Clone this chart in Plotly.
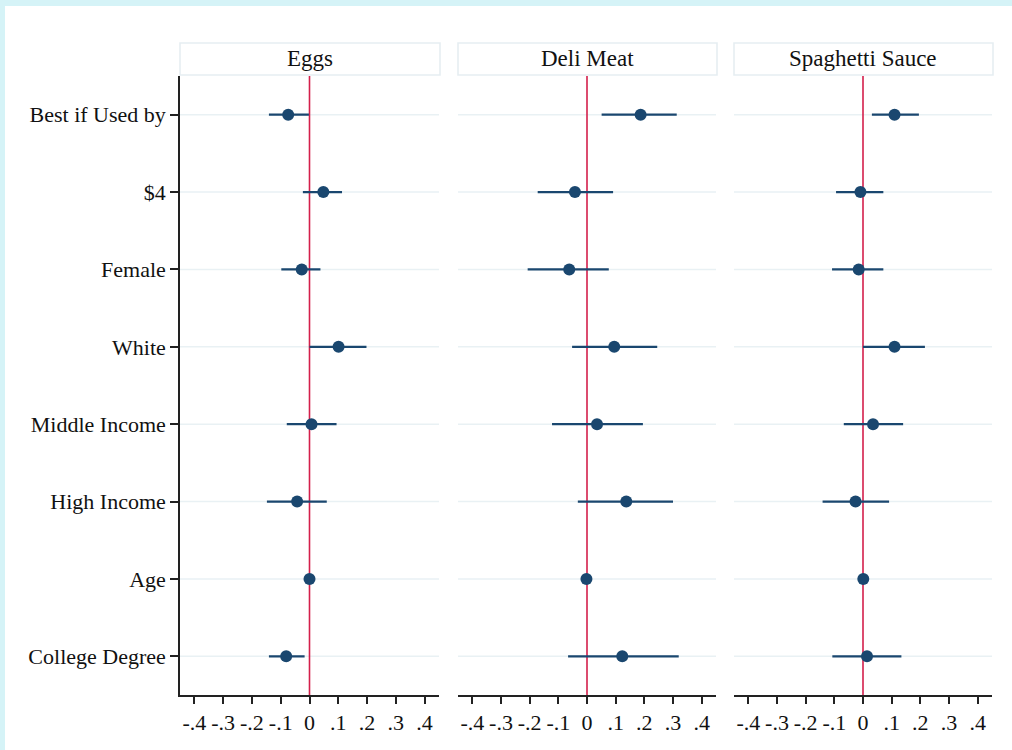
import plotly.graph_objects as go

categories = ["Best if Used by", "$4", "Female", "White", "Middle Income",
              "High Income", "Age", "College Degree"]
panels = ["Eggs", "Deli Meat", "Spaghetti Sauce"]

eggs_est = [-0.074, 0.048, -0.027, 0.101, 0.007, -0.043, 0.000, -0.081]
eggs_lo = [-0.141, -0.023, -0.098, 0.000, -0.079, -0.148, -0.004, -0.141]
eggs_hi = [-0.002, 0.113, 0.038, 0.198, 0.094, 0.060, 0.004, -0.017]

deli_est = [0.187, -0.042, -0.062, 0.095, 0.035, 0.137, -0.002, 0.123]
deli_lo = [0.051, -0.172, -0.207, -0.052, -0.122, -0.032, -0.006, -0.066]
deli_hi = [0.313, 0.091, 0.076, 0.245, 0.195, 0.300, 0.002, 0.320]

sauce_est = [0.110, -0.009, -0.015, 0.110, 0.035, -0.026, 0.001, 0.014]
sauce_lo = [0.031, -0.094, -0.108, 0.000, -0.067, -0.141, -0.003, -0.107]
sauce_hi = [0.195, 0.071, 0.071, 0.216, 0.140, 0.091, 0.005, 0.134]

tick_vals = [-0.4, -0.3, -0.2, -0.1, 0, 0.1, 0.2, 0.3, 0.4]
tick_text = ["-.4", "-.3", "-.2", "-.1", "0", ".1", ".2", ".3", ".4"]

W, H = 1012, 750
NAVY = "#1A476F"
RED = "#D41F4B"
GRID = "#E9F1F4"
FONT = "Liberation Serif"

data = [(eggs_est, eggs_lo, eggs_hi), (deli_est, deli_lo, deli_hi),
        (sauce_est, sauce_lo, sauce_hi)]
px_ranges = [(180, 439), (458, 716), (734, 992)]
top_px, bot_px = 76, 695

fig = go.Figure()
layout = dict(
    width=W, height=H,
    margin=dict(l=0, r=0, t=0, b=0),
    paper_bgcolor="#D5F3F7",
    plot_bgcolor="white",
    showlegend=False,
    font=dict(family=FONT, color="#111111", size=22),
)

shapes = [dict(type="rect", xref="paper", yref="paper",
               x0=5 / W, x1=1, y0=0, y1=(H - 6) / H,
               fillcolor="white", line=dict(width=0), layer="below")]
annotations = []

ypos = list(range(1, len(categories) + 1))

for i, (name, (est, lo, hi)) in enumerate(zip(panels, data)):
    n = i + 1
    xa = "x" if n == 1 else f"x{n}"
    ya = "y" if n == 1 else f"y{n}"
    plus = [h - e for h, e in zip(hi, est)]
    minus = [e - l for e, l in zip(est, lo)]
    fig.add_trace(go.Scatter(
        x=est, y=ypos, mode="markers", xaxis=xa, yaxis=ya,
        marker=dict(color=NAVY, size=12, line=dict(width=0)),
        error_x=dict(type="data", array=plus, arrayminus=minus,
                     color=NAVY, thickness=2.3, width=0),
        hoverinfo="skip",
    ))
    x0p, x1p = px_ranges[i]
    dom_x = [x0p / W, x1p / W]
    dom_y = [(H - bot_px) / H, (H - top_px) / H]
    xkey = "xaxis" if n == 1 else f"xaxis{n}"
    ykey = "yaxis" if n == 1 else f"yaxis{n}"
    layout[xkey] = dict(
        domain=dom_x, range=[-0.45, 0.45], anchor=ya,
        tickvals=tick_vals, ticktext=tick_text,
        showline=True, linecolor="#222222", linewidth=1.6,
        ticks="outside", ticklen=7, tickwidth=1.6, tickcolor="#222222",
        showgrid=False, zeroline=False,
        tickfont=dict(family=FONT, size=22, color="#111111"),
        fixedrange=True,
    )
    layout[ykey] = dict(
        domain=dom_y, range=[8.5, 0.5], anchor=xa,
        tickvals=ypos, ticktext=categories if n == 1 else [""] * len(ypos),
        showticklabels=(n == 1),
        showline=(n == 1), linecolor="#222222", linewidth=1.6,
        ticks="outside" if n == 1 else "", ticklen=8, tickwidth=1.6,
        tickcolor="#222222",
        showgrid=False, zeroline=False,
        tickfont=dict(family=FONT, size=22, color="#111111"),
        fixedrange=True,
    )
    # horizontal grid lines at each category row (drawn below the zero line)
    for yv in ypos:
        shapes.append(dict(type="line", xref=f"{xa} domain", yref=ya,
                           x0=0, x1=1, y0=yv, y1=yv,
                           line=dict(color=GRID, width=1.6), layer="below"))
    # zero reference line
    shapes.append(dict(type="line", xref=xa, yref=f"{ya} domain",
                       x0=0, x1=0, y0=0, y1=1,
                       line=dict(color=RED, width=1.6), layer="below"))
    # title box
    shapes.append(dict(type="rect", xref="paper", yref="paper",
                       x0=x0p / W, x1=(x1p + 1) / W,
                       y0=(H - 75) / H, y1=(H - 43) / H,
                       fillcolor="white", line=dict(color="#E6EEF2", width=1.6)))
    annotations.append(dict(text=name, xref="paper", yref="paper",
                            x=(x0p + x1p) / 2 / W, y=(H - 58) / H,
                            xanchor="center", yanchor="middle", showarrow=False,
                            font=dict(family=FONT, size=23, color="#111111")))

layout["shapes"] = shapes
layout["annotations"] = annotations
fig.update_layout(**layout)
fig.write_html("out.html",
               config={"displayModeBar": False},
               post_script="document.body.style.margin='0';"
                           "document.body.style.overflow='hidden';")
